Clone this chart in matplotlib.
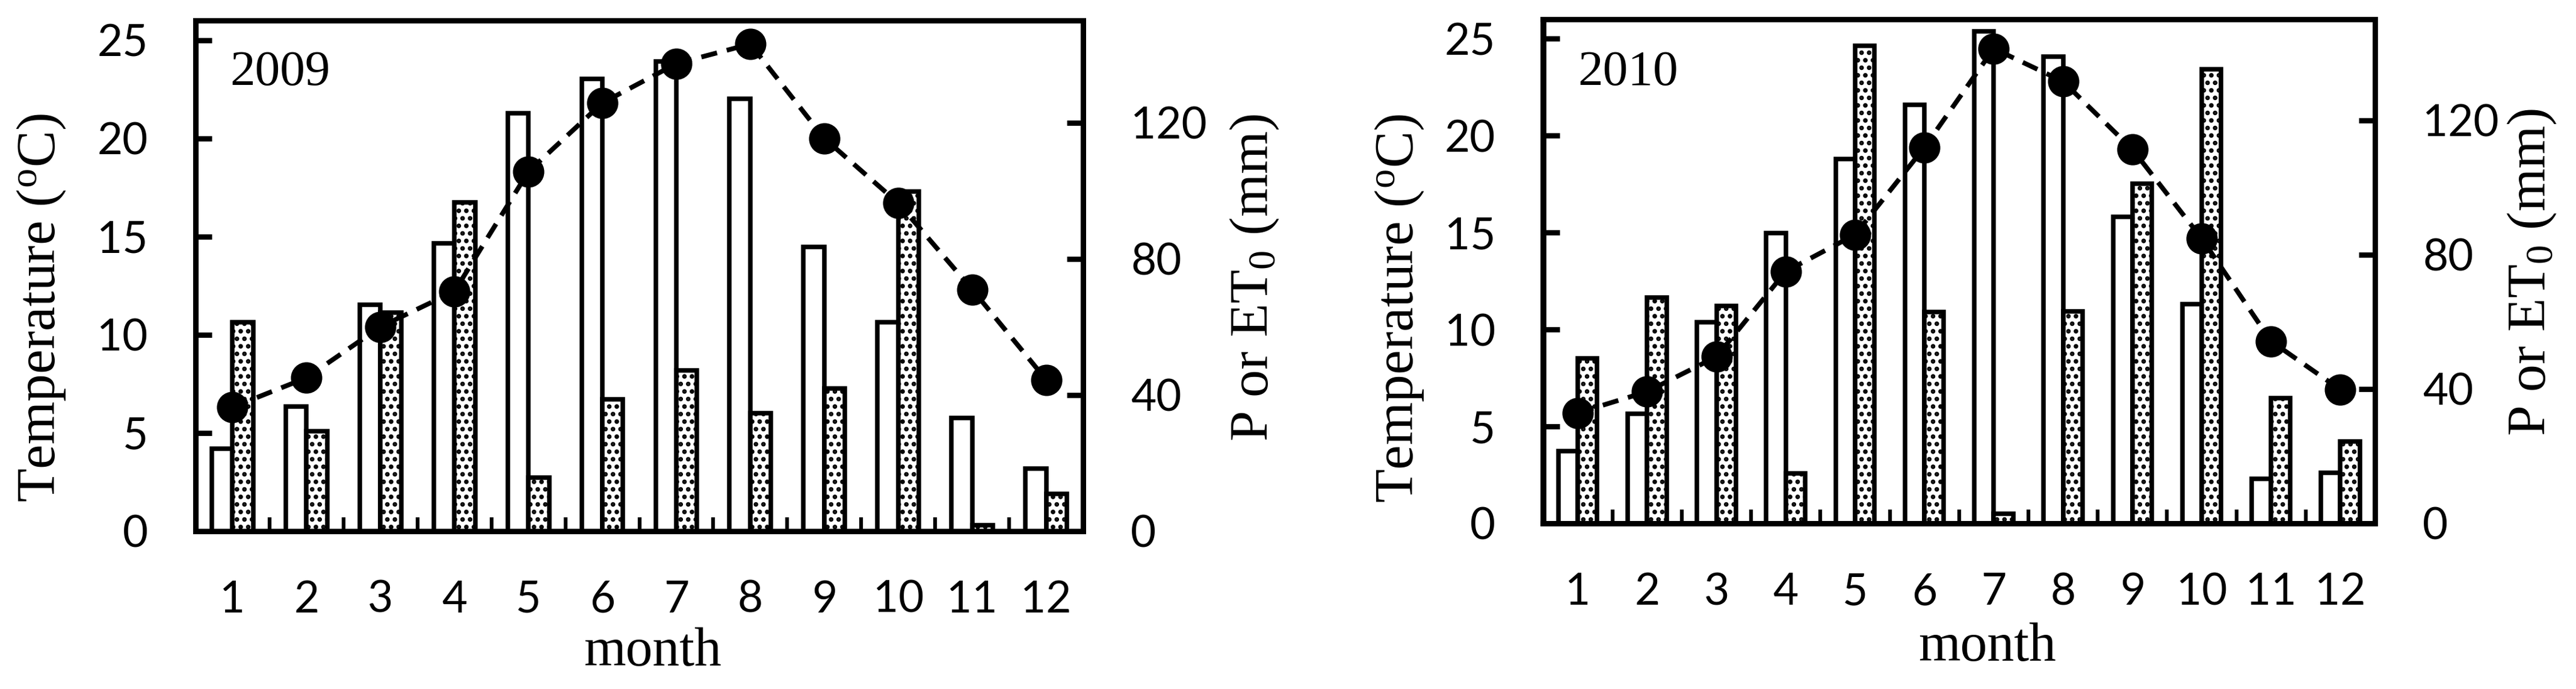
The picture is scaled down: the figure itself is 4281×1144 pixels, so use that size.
import matplotlib
matplotlib.use("Agg")
import matplotlib.pyplot as plt
import numpy as np

# ---------------- data ----------------
months = list(range(1, 13))
month_labels = [str(m) for m in months]

temp_2009 = [6.3, 7.8, 10.4, 12.2, 18.3, 21.8, 23.8, 24.8, 20.0, 16.7, 12.3, 7.7]
et0_2009 = [24.2, 36.5, 66.4, 84.6, 122.8, 132.9, 138.0, 127.0, 83.4, 61.4, 33.2, 18.4]
p_2009 = [61.4, 29.3, 64.1, 96.5, 15.6, 38.7, 47.2, 34.6, 41.9, 99.8, 1.7, 10.9]

temp_2010 = [5.7, 6.8, 8.6, 13.0, 14.9, 19.4, 24.5, 22.8, 19.3, 14.7, 9.4, 6.9]
et0_2010 = [21.6, 32.6, 59.8, 86.5, 108.4, 124.6, 146.5, 138.9, 91.3, 65.3, 13.2, 15.0]
p_2010 = [49.1, 67.2, 64.7, 14.9, 142.2, 62.9, 2.8, 63.1, 101.2, 135.2, 37.2, 24.4]

temp_ticks = [0, 5, 10, 15, 20, 25]
mm_ticks = [0, 40, 80, 120]
years = ["2009", "2010"]

# ---------------- style ----------------
plt.rcParams['mathtext.fontset'] = 'custom'
plt.rcParams['mathtext.rm'] = 'Liberation Serif'
plt.rcParams['mathtext.it'] = 'Liberation Serif:italic'
plt.rcParams['mathtext.bf'] = 'Liberation Serif:bold'
plt.rcParams['hatch.linewidth'] = 1.2
plt.rcParams['hatch.color'] = 'black'

W, H = 4281, 1144
DPI = 300
fig = plt.figure(figsize=(W / DPI, H / DPI), dpi=DPI)

def px_axes(l, r, t, b):
    return [l / W, 1 - b / H, (r - l) / W, (b - t) / H]

def px_pt(x, y):
    return x / W, 1 - y / H

panels = [
    dict(year=years[0], temp=temp_2009, et0=et0_2009, p=p_2009,
         box=(325, 1800, 34, 881.5),
         tlab=(69, 511), plab=(2085, 461), mlab=(1085, 1083), ytext=(0.039, 0.874)),
    dict(year=years[1], temp=temp_2010, et0=et0_2010, p=p_2010,
         box=(2564.5, 3947, 32.3, 869),
         tlab=(2326, 512), plab=(4208, 452), mlab=(3302, 1075), ytext=(0.0416, 0.870)),
]

tick_font = dict(family='Lato', size=17.5)
serif = 'Liberation Serif'
SPINE_LW = 2.1
BAR_LW = 1.8
BW = 0.28
x = np.array(months, dtype=float)

for pan in panels:
    ax = fig.add_axes(px_axes(*pan['box']))
    ax2 = ax.twinx()

    # bars on the mm axis
    ax2.bar(x - BW / 2, pan['et0'], width=BW, facecolor='white',
            edgecolor='black', linewidth=BAR_LW, zorder=2)
    ax2.bar(x + BW / 2, pan['p'], width=BW, facecolor='white',
            edgecolor='black', linewidth=BAR_LW, hatch='....', zorder=2)

    # temperature line on the left axis
    ax.plot(x, pan['temp'], color='black', linewidth=1.9,
            linestyle=(0, (3.4, 2.1)), marker='o', markersize=11.5,
            markerfacecolor='black', markeredgecolor='black', zorder=5)

    ax.set_zorder(ax2.get_zorder() + 1)
    ax.patch.set_visible(False)

    ax.set_xlim(0.5, 12.5)
    ax.set_ylim(0, 26)
    ax2.set_ylim(0, 150)

    ax.set_yticks(temp_ticks)
    ax2.set_yticks(mm_ticks)
    ax.set_xticks(months)
    ax.set_xticklabels(month_labels)
    ax.set_xticks(x[:-1] + 0.5, minor=True)

    for a in (ax, ax2):
        for s in a.spines.values():
            s.set_linewidth(SPINE_LW)
            s.set_color('black')

    ax.tick_params(axis='y', which='major', direction='in', length=6.5,
                   width=SPINE_LW, pad=19, left=True, right=False,
                   labelleft=True, labelright=False)
    ax2.tick_params(axis='y', which='major', direction='in', length=6.5,
                    width=SPINE_LW, pad=19, left=False, right=True,
                    labelleft=False, labelright=True)
    ax.tick_params(axis='x', which='major', length=0, pad=19.5,
                   bottom=True, top=False)
    ax.tick_params(axis='x', which='minor', direction='in', length=5.6,
                   width=1.5, bottom=True, top=False)
    ax2.tick_params(axis='x', which='both', length=0, labelbottom=False)

    for lab in ax.get_yticklabels() + ax2.get_yticklabels() + ax.get_xticklabels():
        lab.set_fontfamily(tick_font['family'])
        lab.set_fontsize(tick_font['size'])

    ax.text(pan['ytext'][0], pan['ytext'][1], pan['year'], transform=ax.transAxes,
            family=serif, fontsize=20, ha='left', va='baseline')

    fx, fy = px_pt(*pan['tlab'])
    fig.text(fx, fy, r'Temperature ($^{\rm o}$C)', rotation=90, ha='center',
             va='center', family=serif, fontsize=22)
    fx, fy = px_pt(*pan['plab'])
    fig.text(fx, fy, r'P or ET$_{\rm 0}$ (mm)', rotation=90, ha='center',
             va='center', family=serif, fontsize=22)
    fx, fy = px_pt(*pan['mlab'])
    fig.text(fx, fy, 'month', ha='center', va='center', family=serif, fontsize=21.5)

fig.savefig('out.png', dpi=DPI)
